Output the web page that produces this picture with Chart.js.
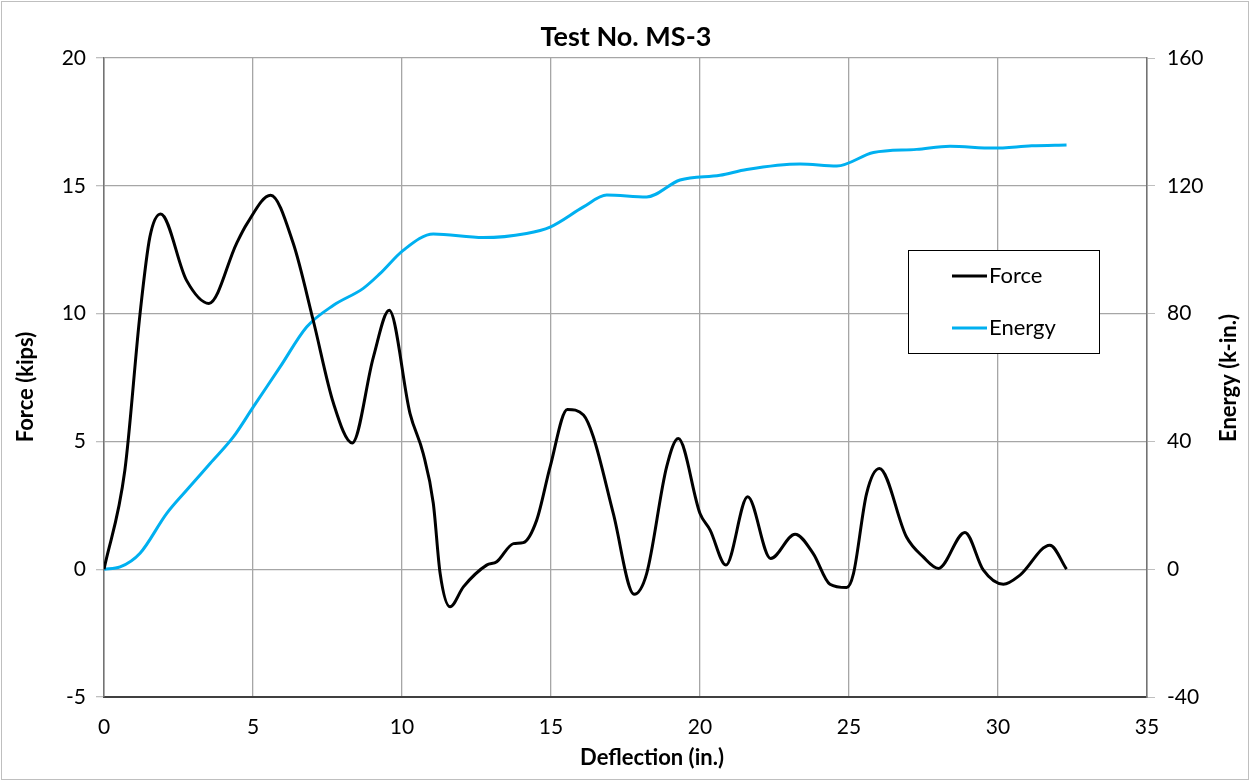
<!DOCTYPE html>
<html>
<head>
<meta charset="utf-8">
<script src="https://cdn.jsdelivr.net/npm/chart.js@4/dist/chart.umd.min.js"></script>
<style>
  body { margin: 0; background: #fff; }
  #wrap { width: 1250px; height: 781px; position: relative; }
</style>
</head>
<body>
<div id="wrap"><canvas id="msChart"></canvas></div>
<script>
// Test No. MS-3 : force / energy vs deflection
const forceX = [0, 0.7, 1.21, 1.54, 1.9, 2.77, 3.52, 4.45, 4.79, 5.59, 6.35, 7.02, 7.7, 8.33, 9.04, 9.57,
  10.27, 10.71, 11.05, 11.28, 11.61, 12.06, 12.84, 13.18, 13.74, 14.07, 14.52, 14.97, 15.55, 16.09, 16.42,
  17.09, 17.79, 18.21, 18.88, 19.27, 20.0, 20.34, 20.87, 21.6, 22.37, 23.19, 23.8, 24.36, 24.92, 25.15,
  25.59, 26.02, 26.93, 27.49, 28.0, 28.89, 29.51, 30.18, 30.74, 31.74, 32.3];
const forceY = [0, 3.87, 10.0, 13.0, 13.9, 11.3, 10.4, 12.75, 13.5, 14.63, 12.75, 9.74, 6.49, 4.94, 8.3, 10.13,
  6.09, 4.53, 2.58, -0.17, -1.47, -0.69, 0.16, 0.29, 1.0, 1.04, 1.92, 4.0, 6.25, 6.03, 5.18,
  2.18, -0.98, -0.17, 4.0, 5.11, 2.18, 1.53, 0.16, 2.83, 0.42, 1.37, 0.61, -0.59, -0.72, -0.17,
  2.96, 3.94, 1.26, 0.48, 0.03, 1.44, -0.04, -0.59, -0.23, 0.94, 0];

const energyX = [0, 0.54, 1.21, 2.1, 2.77, 3.56, 4.34, 5.01, 5.91, 6.8, 7.7, 8.7, 9.26, 10.04, 11.05, 12.73,
  14.18, 14.97, 16.09, 16.87, 18.21, 19.33, 20.67, 21.57, 23.36, 24.59, 25.82, 27.27, 28.39, 29.84, 31.13, 32.3];
const energyY = [0, 0.7, 5.0, 17.4, 24.7, 33.1, 41.4, 50.8, 63.3, 75.8, 82.6, 87.9, 92.5, 99.8, 104.9, 103.8,
  105.1, 107.1, 113.4, 117.1, 116.5, 121.8, 123.3, 125.1, 126.8, 126.2, 130.4, 131.4, 132.4, 131.8, 132.5, 132.8];

const xTicks = [0, 5, 10, 15, 20, 25, 30, 35];
const forceTicks = [-5, 0, 5, 10, 15, 20];
const energyTicks = [-40, 0, 40, 80, 120, 160];

const FONT = 'Lato, "Open Sans", sans-serif';
const GRID = '#a6a6a6';

function pairs(xs, ys) {
  return xs.map((x, i) => ({ x: x, y: ys[i] }));
}

// titles, legend box and outer frame drawn by hand (Excel look)
const decorPlugin = {
  id: 'decor',
  afterDraw(chart) {
    const ctx = chart.ctx;
    ctx.save();
    // outer frame
    ctx.strokeStyle = '#bfbfbf';
    ctx.lineWidth = 1;
    ctx.strokeRect(1.5, 1.5, chart.width - 3, chart.height - 3);

    ctx.fillStyle = '#000';
    ctx.textAlign = 'center';
    ctx.textBaseline = 'middle';
    ctx.font = 'bold 27px ' + FONT;
    ctx.fillText('Test No. MS-3', 626, 37);

    ctx.font = 'bold 22px ' + FONT;
    ctx.fillText('Deflection (in.)', 652, 758);

    ctx.save();
    ctx.translate(26, 387);
    ctx.rotate(-Math.PI / 2);
    ctx.fillText('Force (kips)', 0, 0);
    ctx.restore();

    ctx.save();
    ctx.translate(1229, 378);
    ctx.rotate(-Math.PI / 2);
    ctx.fillText('Energy (k-in.)', 0, 0);
    ctx.restore();

    // legend
    const lx = 908.5, ly = 250.5, lw = 191, lh = 103;
    ctx.fillStyle = '#fff';
    ctx.fillRect(lx, ly, lw, lh);
    ctx.strokeStyle = '#000';
    ctx.lineWidth = 1;
    ctx.strokeRect(lx, ly, lw, lh);
    ctx.textAlign = 'left';
    ctx.font = '22px ' + FONT;
    chart.data.datasets.forEach((ds, i) => {
      const y = 276 + i * 52;
      ctx.strokeStyle = ds.borderColor;
      ctx.lineWidth = 3;
      ctx.beginPath();
      ctx.moveTo(952, y);
      ctx.lineTo(987, y);
      ctx.stroke();
      ctx.fillStyle = '#000';
      ctx.fillText(ds.label, 989, y);
    });
    ctx.restore();
  }
};

const ctx = document.getElementById('msChart').getContext('2d');
new Chart(ctx, {
  type: 'line',
  data: {
    datasets: [
      {
        label: 'Force',
        data: pairs(forceX, forceY),
        borderColor: '#000000',
        borderWidth: 3,
        pointRadius: 0,
        cubicInterpolationMode: 'monotone',
        yAxisID: 'y'
      },
      {
        label: 'Energy',
        data: pairs(energyX, energyY),
        borderColor: '#00b0f0',
        borderWidth: 3,
        pointRadius: 0,
        cubicInterpolationMode: 'monotone',
        yAxisID: 'y1'
      }
    ]
  },
  options: {
    responsive: true,
    maintainAspectRatio: false,
    animation: false,
    layout: { padding: { top: 58, left: 0, right: 0, bottom: 0 } },
    plugins: {
      legend: { display: false },
      title: { display: false },
      tooltip: { enabled: false }
    },
    scales: {
      x: {
        type: 'linear',
        min: 0,
        max: 35,
        afterBuildTicks: s => { s.ticks = xTicks.map(v => ({ value: v })); },
        afterFit: s => { s.height = 84; },
        ticks: { font: { family: FONT, size: 21 }, color: '#000', padding: 18 },
        grid: { color: GRID, lineWidth: 1.3, drawTicks: false },
        border: { color: '#404040', width: 2 }
      },
      y: {
        position: 'left',
        min: -5,
        max: 20,
        afterBuildTicks: s => { s.ticks = forceTicks.map(v => ({ value: v })); },
        afterFit: s => { s.width = 104; },
        ticks: { font: { family: FONT, size: 21 }, color: '#000', padding: 10 },
        grid: { color: GRID, lineWidth: 1.3, tickLength: 8, tickColor: '#bfbfbf' },
        border: { color: '#737373', width: 1.5 }
      },
      y1: {
        position: 'right',
        min: -40,
        max: 160,
        afterBuildTicks: s => { s.ticks = energyTicks.map(v => ({ value: v })); },
        afterFit: s => { s.width = 103; },
        ticks: { font: { family: FONT, size: 21 }, color: '#000', padding: 12 },
        grid: { drawOnChartArea: false, tickLength: 8, tickColor: '#bfbfbf' },
        border: { color: '#737373', width: 1.5 }
      }
    }
  },
  plugins: [decorPlugin]
});
</script>
</body>
</html>
